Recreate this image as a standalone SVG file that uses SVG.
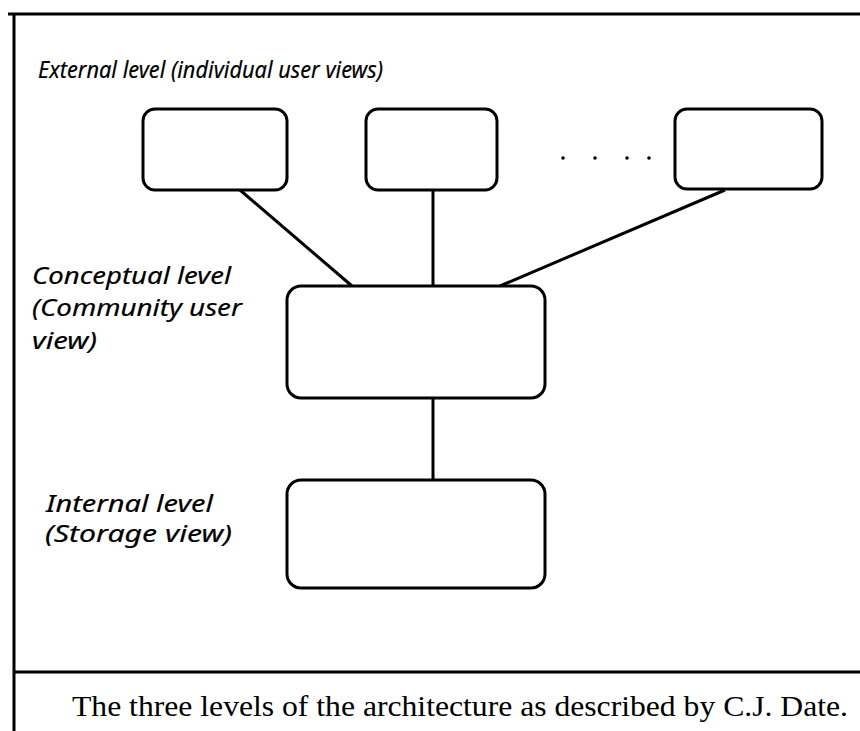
<svg xmlns="http://www.w3.org/2000/svg" width="860" height="731" viewBox="0 0 860 731">
  <style>
    .frame { stroke: #000; stroke-width: 3; fill: none; }
    .box { fill: #fff; stroke: #000; stroke-width: 3; }
    .link { stroke: #000; stroke-width: 3; fill: none; }
    .hand { font-family: "Comic Sans MS", "Noto Sans", "DejaVu Sans", sans-serif; font-style: italic; font-size: 24px; fill: #000; stroke: #000; stroke-width: 0.2; }
    .caption { font-family: "Liberation Serif", "Times New Roman", serif; font-size: 29px; fill: #000; }
  </style>
  <rect width="860" height="731" fill="#fff"/>

  <!-- page frame -->
  <g id="frame">
    <line class="frame" x1="8" y1="14" x2="860" y2="14"/>
    <line class="frame" x1="14" y1="14" x2="14" y2="731"/>
    <line class="frame" x1="14" y1="672" x2="860" y2="672"/>
  </g>

  <!-- connectors -->
  <g id="connectors">
    <line class="link" x1="240" y1="190" x2="352" y2="286"/>
    <line class="link" x1="433" y1="190" x2="433" y2="286"/>
    <line class="link" x1="725" y1="190" x2="500" y2="286"/>
    <line class="link" x1="433" y1="398" x2="433" y2="480"/>
  </g>

  <!-- external level -->
  <g id="label-external">
    <text class="hand" x="38" y="78" textLength="345" lengthAdjust="spacingAndGlyphs">External level (individual user views)</text>
  </g>
  <g id="view1"><rect class="box" x="143" y="109" width="144" height="81" rx="12"/></g>
  <g id="view2"><rect class="box" x="366" y="109" width="131" height="81" rx="12"/></g>
  <g id="ellipsis">
    <circle cx="563" cy="158" r="1.8"/>
    <circle cx="595" cy="158" r="1.8"/>
    <circle cx="627" cy="158" r="1.8"/>
    <circle cx="649" cy="158" r="1.8"/>
  </g>
  <g id="view3"><rect class="box" x="675" y="109" width="147" height="80" rx="12"/></g>

  <!-- conceptual level -->
  <g id="label-conceptual">
    <text class="hand" x="32" y="284" textLength="199" lengthAdjust="spacingAndGlyphs">Conceptual level</text>
    <text class="hand" x="32" y="316" textLength="210" lengthAdjust="spacingAndGlyphs">(Community user</text>
    <text class="hand" x="32" y="349" textLength="65" lengthAdjust="spacingAndGlyphs">view)</text>
  </g>
  <g id="conceptual"><rect class="box" x="287" y="286" width="258" height="112" rx="14"/></g>

  <!-- internal level -->
  <g id="label-internal">
    <text class="hand" x="46" y="512" textLength="167" lengthAdjust="spacingAndGlyphs">Internal level</text>
    <text class="hand" x="45" y="542" textLength="187" lengthAdjust="spacingAndGlyphs">(Storage view)</text>
  </g>
  <g id="internal"><rect class="box" x="287" y="480" width="258" height="108" rx="14"/></g>

  <!-- caption -->
  <g id="caption">
    <text class="caption" x="72" y="716" textLength="776" lengthAdjust="spacingAndGlyphs">The three levels of the architecture as described by C.J. Date.</text>
  </g>
</svg>
